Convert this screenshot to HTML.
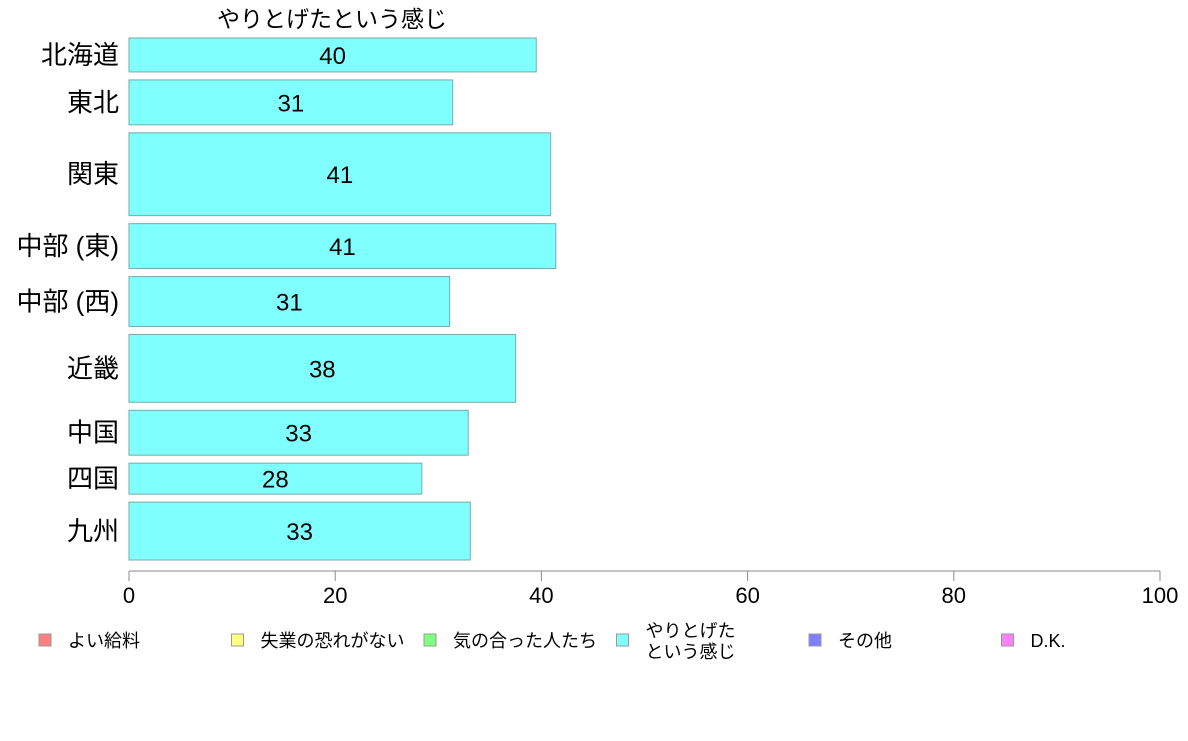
<!DOCTYPE html>
<html><head><meta charset="utf-8"><style>
body{margin:0;background:#fff;}
svg text{font-family:"Liberation Sans","Noto Sans CJK JP",sans-serif;}
</style></head><body>
<svg id="c" width="1188" height="736"></svg>
<script>
const categories=["北海道","東北","関東","中部 (東)","中部 (西)","近畿","中国","四国","九州"];
const values=[39.5,31.4,40.9,41.4,31.1,37.5,32.9,28.4,33.1];
const labels=["40","31","41","41","31","38","33","28","33"];
const weights=[34,45,83,45,50,68,45,31,58];
const ticks=[0,20,40,60,80,100];
const legendNames=["よい給料","失業の恐れがない","気の合った人たち","やりとげた\nという感じ","その他","D.K."];
const legendColors=["#ff8080","#ffff80","#80ff80","#80ffff","#8080ff","#ff80ff"];
const ns="http://www.w3.org/2000/svg",svg=document.getElementById('c');
function mk(t,a,p){const e=document.createElementNS(ns,t);for(const k in a)e.setAttribute(k,a[k]);(p||svg).appendChild(e);return e;}
const x0=129,x1=1160,xs=v=>x0+(x1-x0)*v/100;
const yTop=38,yBot=560,gap=8;
const tw=weights.reduce((a,b)=>a+b,0),unit=(yBot-yTop-gap*(weights.length-1))/tw;
let t=mk('text',{x:332,y:27,'font-size':23,'text-anchor':'middle',fill:'#000'});t.textContent="やりとげたという感じ";


let y=yTop;
categories.forEach((c,i)=>{const h=weights[i]*unit;
 const r=mk('rect',{x:x0,y:y,width:xs(values[i])-x0,height:h,fill:'#80ffff',stroke:'#7aa9a9','stroke-width':1});
 
 
 const l=mk('text',{x:(x0+xs(values[i]))/2,y:y+h/2+9,'font-size':24,'text-anchor':'middle'});l.textContent=labels[i];
 
 
 const cl=mk('text',{x:119,y:y+h/2+9,'font-size':26,'text-anchor':'end'});cl.textContent=c;
 
 
 y+=h+gap;});
const ax=mk('line',{x1:x0,x2:x1,y1:571,y2:571,stroke:'#888'});


ticks.forEach(v=>{const tk=mk('line',{x1:xs(v),x2:xs(v),y1:571,y2:581,stroke:'#888'});
 
 
 const tl=mk('text',{x:xs(v),y:603,'font-size':22,'text-anchor':'middle'});tl.textContent=v;
 
 });
legendNames.forEach((n,i)=>{const lx=39+i*192.5;
 const s=mk('rect',{x:lx,y:634,width:12,height:12,fill:legendColors[i],stroke:'#999'});
 
 
 const parts=n.split("\n");
 parts.forEach((p,j)=>{const tt=mk('text',{x:lx+29,y:parts.length>1?637+j*21:647,'font-size':18});tt.textContent=p;
  
  });});
</script>
</body></html>
